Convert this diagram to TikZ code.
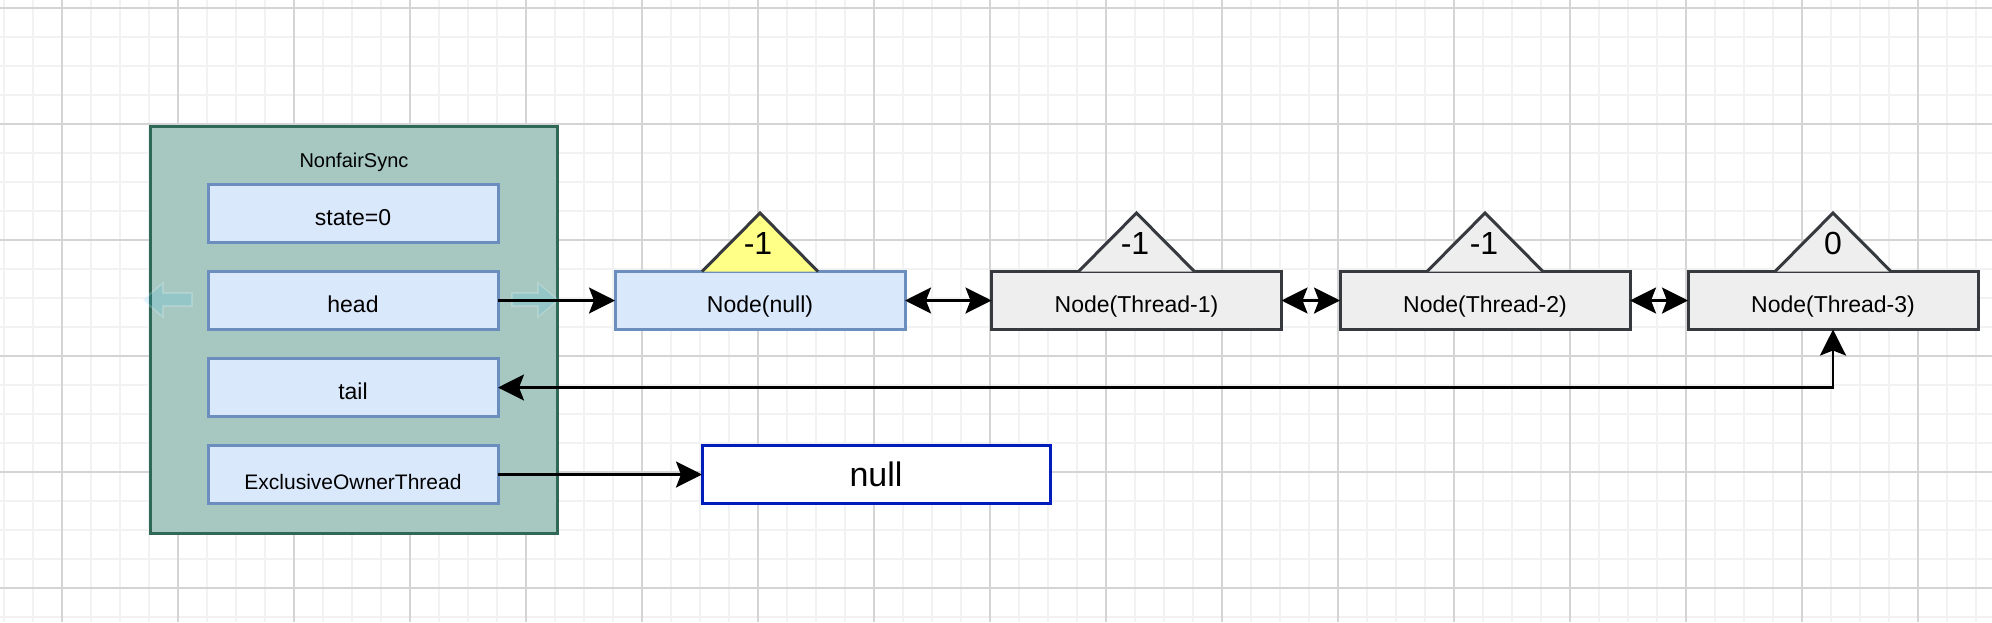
\documentclass[tikz,border=0pt]{standalone}
\usepackage{fontspec}
\setmainfont{Liberation Sans}
\usetikzlibrary{arrows.meta}
\definecolor{gridmajor}{RGB}{212,212,212}
\definecolor{gridminor}{RGB}{242,242,242}
\definecolor{syncfill}{RGB}{166,200,192}
\definecolor{syncdraw}{RGB}{47,104,86}
\definecolor{fieldfill}{RGB}{218,232,252}
\definecolor{fielddraw}{RGB}{108,142,191}
\definecolor{grayfill}{RGB}{238,238,238}
\definecolor{graydraw}{RGB}{54,57,61}
\definecolor{yellowfill}{RGB}{255,255,136}
\definecolor{nulldraw}{RGB}{0,29,188}
\definecolor{hoverblue}{RGB}{41,182,242}
\tikzset{
  ptip/.tip={Stealth[length=13pt, width=13pt, inset=2.5pt]},
  boxbase/.style={rectangle, anchor=north west, line width=1.5pt, inner sep=0pt, outer sep=0pt},
  field/.style={boxbase, fill=fieldfill, draw=fielddraw, minimum width=145pt, minimum height=29pt,
    font=\fontsize{11.5}{13}\selectfont, text height=12pt, text depth=0pt},
  qnode/.style={boxbase, fill=grayfill, draw=graydraw, minimum width=145pt, minimum height=29pt,
    font=\fontsize{11.5}{13}\selectfont, text height=12pt, text depth=0pt},
  tri/.style={line width=1.5pt, draw=graydraw, line join=miter},
  trilabel/.style={anchor=base, inner sep=0pt, font=\fontsize{16}{18}\selectfont},
  conn/.style={line width=1.4pt, draw=black},
  hover/.style={fill=hoverblue, fill opacity=0.14, draw=white, draw opacity=0.2, line width=0.8pt},
}
\begin{document}
\begin{tikzpicture}[x=0.5pt,y=-0.5pt]
\useasboundingbox (0,0) rectangle (1992,622);
\fill[white] (0,0) rectangle (1992,622);
% grid
\foreach \x in {4,33,...,1992} \draw[gridminor, line width=0.75pt] (\x,0) -- (\x,622);
\foreach \y in {8,37,...,622} \draw[gridminor, line width=0.75pt] (0,\y) -- (1992,\y);
\foreach \x in {62,178,...,1992} \draw[gridmajor, line width=0.6pt] (\x,0) -- (\x,622);
\foreach \y in {8,124,...,622} \draw[gridmajor, line width=0.6pt] (0,\y) -- (1992,\y);

% container
\node[boxbase, fill=syncfill, draw=syncdraw, minimum width=203.5pt, minimum height=203.5pt] (sync) at (150,126) {};
\node[anchor=base, inner sep=0pt, font=\fontsize{10}{12}\selectfont] (synctitle) at (354,167) {NonfairSync};

\node[field] (state) at (208,184) {state=0};
\node[field] (head) at (208,271.5) {head};
\node[field] (tail) at (208,358.5) {tail};
\node[field, font=\fontsize{10.5}{12}\selectfont, text height=15pt] (eot) at (208,445.5) {ExclusiveOwnerThread};

% hover arrows
\path[hover] (143,300) -- (163,283) -- (163,293) -- (192,293) -- (192,306) -- (163,306) -- (163,317) -- cycle;
\path[hover] (512,293) -- (538,293) -- (538,283) -- (558,300) -- (538,317) -- (538,306) -- (512,306) -- cycle;

% queue nodes
\node[field] (nnull) at (615,271.5) {Node(null)};
\node[qnode] (t1) at (991.5,271.5) {Node(Thread-1)};
\node[qnode] (t2) at (1340,271.5) {Node(Thread-2)};
\node[qnode] (t3) at (1688,271.5) {Node(Thread-3)};

% waitStatus triangles
\draw[tri, fill=yellowfill] (702,271.5) -- (760,213) -- (818,271.5);
\draw[tri, fill=grayfill] (1078.5,271.5) -- (1136.5,213) -- (1194.5,271.5);
\draw[tri, fill=grayfill] (1427,271.5) -- (1485,213) -- (1543,271.5);
\draw[tri, fill=grayfill] (1775,271.5) -- (1833,213) -- (1891,271.5);
\node[trilabel] (ws0) at (758,254) {-1};
\node[trilabel] (ws1) at (1135,254) {-1};
\node[trilabel] (ws2) at (1484,254) {-1};
\node[trilabel] (ws3) at (1833,254) {0};

% null box
\node[boxbase, fill=white, draw=nulldraw, minimum width=174pt, minimum height=29pt,
  font=\fontsize{17}{19}\selectfont, text height=12pt, text depth=0pt] (nullbox) at (702,445.5) {null};

% connectors
\draw[conn, -{ptip}] (head.east) -- (nnull.west);
\draw[conn, {ptip}-{ptip}] (nnull.east) -- (t1.west);
\draw[conn, {ptip}-{ptip}] (t1.east) -- (t2.west);
\draw[conn, {ptip}-{ptip}] (t2.east) -- (t3.west);
\draw[conn, {ptip}-{ptip}] (tail.east) -| (t3.south);
\draw[conn, -{ptip}] (eot.east) -- (nullbox.west);
\end{tikzpicture}
\end{document}
